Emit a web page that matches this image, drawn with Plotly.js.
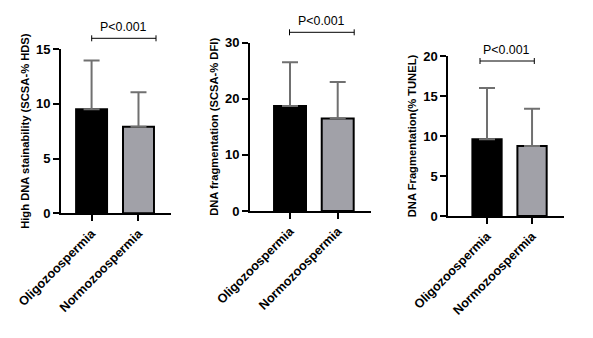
<!DOCTYPE html>
<html>
<head>
<meta charset="utf-8">
<script src="https://cdn.plot.ly/plotly-3.0.1.min.js"></script>
<style>html,body{margin:0;padding:0;background:#fff;}#chart{width:593px;height:338px;}</style>
</head>
<body>
<div id="chart"></div>
<script>
// ---- data ----
const categories = ["Oligozoospermia", "Normozoospermia"];
const hdsMeans = [9.5, 7.9];
const hdsSD = [4.45, 3.15];
const dfiMeans = [18.7, 16.5];
const dfiSD = [7.8, 6.5];
const tunelMeans = [9.6, 8.75];
const tunelSD = [6.4, 4.65];
const pLabel = "P<0.001";
const yTitles = ["High DNA stainability (SCSA-% HDS)", "DNA fragmentation (SCSA-% DFI)", "DNA Fragmentation(% TUNEL)"];
const yRanges = [[0, 15], [0, 30], [0, 20]];
const yDtick = [5, 10, 5];

const W = 593, H = 338;
const barColors = ["#000000", "#a1a1a8"];
const font = "Liberation Sans, Arial, sans-serif";

const panels = [
  {means: hdsMeans, sd: hdsSD, xd: [61/W, 171/W], yd: [1-213.3/H, 1-49/H], xr: [-0.652, 1.693], bw: 0.66,
   br: [91.7, 156, 38.3], pt: [123, 27]},
  {means: dfiMeans, sd: dfiSD, xd: [250/W, 371/W], yd: [1-211/H, 1-42.7/H], xr: [-0.839, 1.698], bw: 0.67,
   br: [289.5, 354.2, 32.3], pt: [321.7, 21]},
  {means: tunelMeans, sd: tunelSD, xd: [448.3/W, 564/W], yd: [1-216/H, 1-56/H], xr: [-0.86, 1.71], bw: 0.65,
   br: [480, 534.3, 61], pt: [506.7, 50]}
];

const data = [];
const layout = {
  width: W, height: H,
  margin: {l: 0, r: 0, t: 0, b: 0},
  paper_bgcolor: "#fff", plot_bgcolor: "#fff",
  showlegend: false,
  font: {family: font, color: "#000"},
  shapes: [], annotations: []
};

panels.forEach((p, i) => {
  const n = i === 0 ? "" : String(i + 1);
  data.push({
    type: "bar",
    x: categories,
    y: p.means,
    xaxis: "x" + n, yaxis: "y" + n,
    width: p.bw,
    marker: {color: barColors, line: {color: "#000", width: 2}},
    error_y: {type: "data", array: p.sd, symmetric: false, arrayminus: [0, 0], color: "#707070", thickness: 2, width: 8},
    hoverinfo: "none"
  });
  layout["xaxis" + n] = {
    domain: p.xd, anchor: "y" + n,
    type: "category", range: p.xr,
    showline: true, linecolor: "#000", linewidth: 2,
    ticks: "outside", ticklen: 6, tickwidth: 2, tickcolor: "#000",
    tickangle: -45,
    tickfont: {family: font, size: 12.6, color: "#000", weight: "bold"},
    showgrid: false, zeroline: false, fixedrange: true
  };
  layout["yaxis" + n] = {
    domain: p.yd, anchor: "x" + n,
    range: yRanges[i], dtick: yDtick[i],
    showline: true, linecolor: "#000", linewidth: 2,
    ticks: "outside", ticklen: 6, tickwidth: 2, tickcolor: "#000",
    tickfont: {family: font, size: 13, color: "#000", weight: "bold"},
    title: {text: yTitles[i], font: {family: font, size: 11.2, color: "#000", weight: "bold"}, standoff: 4},
    showgrid: false, zeroline: false, fixedrange: true
  };
  // significance bracket (pixel positions converted to paper)
  const x0 = p.br[0] / W, x1 = p.br[1] / W, yb = 1 - p.br[2] / H, dy = 3 / H;
  layout.shapes.push({type: "line", xref: "paper", yref: "paper", x0: x0, x1: x1, y0: yb, y1: yb, line: {color: "#000", width: 1}});
  layout.shapes.push({type: "line", xref: "paper", yref: "paper", x0: x0, x1: x0, y0: yb - dy, y1: yb + dy, line: {color: "#000", width: 1}});
  layout.shapes.push({type: "line", xref: "paper", yref: "paper", x0: x1, x1: x1, y0: yb - dy, y1: yb + dy, line: {color: "#000", width: 1}});
  layout.annotations.push({
    text: pLabel, xref: "paper", yref: "paper", x: p.pt[0] / W, y: 1 - p.pt[1] / H,
    xanchor: "center", yanchor: "middle", showarrow: false,
    font: {family: font, size: 12.4, color: "#000"}
  });
});

Plotly.newPlot("chart", data, layout, {staticPlot: true, displayModeBar: false});
</script>
</body>
</html>
